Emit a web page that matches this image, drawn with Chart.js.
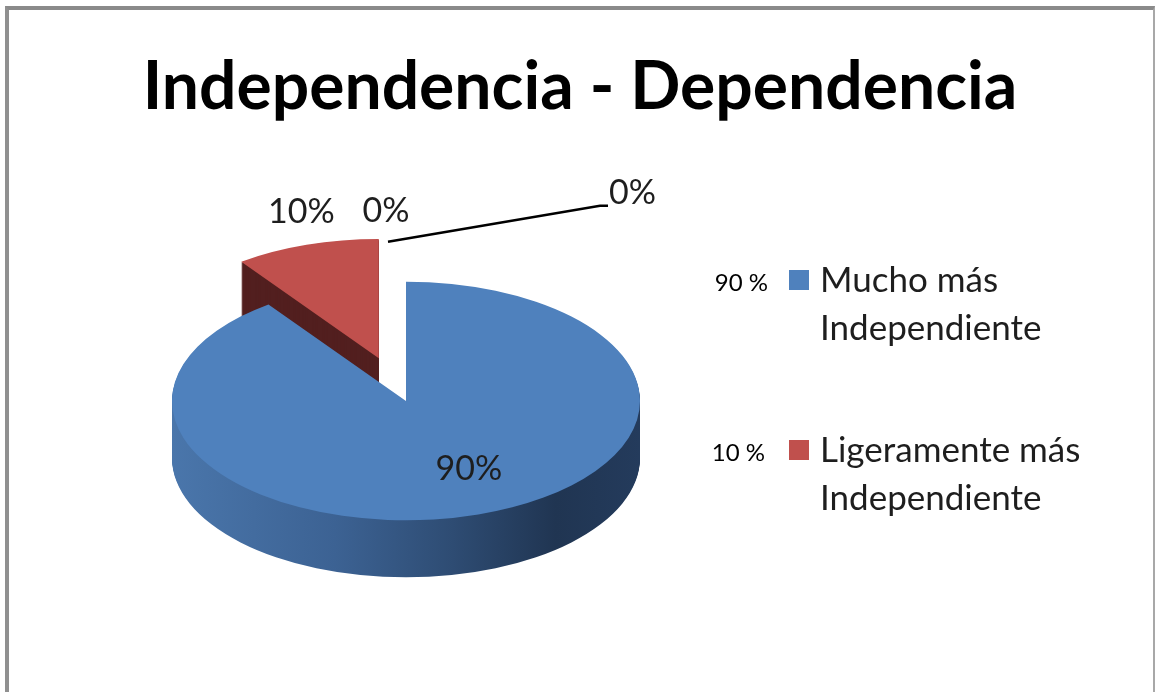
<!DOCTYPE html>
<html>
<head>
<meta charset="utf-8">
<script src="https://cdn.jsdelivr.net/npm/chart.js@4.4.0/dist/chart.umd.min.js"></script>
<style>
html, body { margin: 0; padding: 0; background: #fff; }
#wrap { position: relative; width: 1155px; height: 692px; overflow: hidden; }
#myChart { position: absolute; left: 0; top: 0; }
#frame { position: absolute; left: 5px; top: 6px; width: 1144px; height: 720px;
         border-top: 4px solid #8a8a8a; border-left: 4px solid #909090; border-right: 2px solid #a8a8a8; }
</style>
</head>
<body>
<div id="wrap">
  <canvas id="myChart" width="1155" height="692"></canvas>
  <div id="frame"></div>
</div>
<script>
// chart data
var chartTitle = 'Independencia - Dependencia';
var categories = ['Mucho más Independiente', 'Ligeramente más Independiente', 'Ligeramente más Dependiente', 'Mucho más Dependiente'];
var percentValues = [90, 10, 0, 0];

var TILT = 0.51;     // squash of the pie disc
var DEPTH = 57;      // thickness of the disc in px
var EXPLODE = [0, 88, 0, 0];
var FONT = 'Lato, "Open Sans", sans-serif';

function sliceShift(arc, i){
    var mid = (arc.startAngle + arc.endAngle) / 2;
    var e = EXPLODE[i] || 0;
    return { dx: Math.cos(mid) * e, dy: Math.sin(mid) * e };
}

function tilt(ctx, cx, cy){
    ctx.translate(cx, cy);
    ctx.scale(1, TILT);
    ctx.translate(-cx, -cy);
}

function rimPoint(arc, i, frac){
    var mid = (arc.startAngle + arc.endAngle) / 2;
    var s = sliceShift(arc, i);
    var r = arc.outerRadius * frac;
    return {
        x: arc.x + s.dx + Math.cos(mid) * r,
        y: arc.y + TILT * (s.dy + Math.sin(mid) * r)
    };
}

var pie3d = {
    id: 'pie3d',
    afterUpdate: function(chart){
        chart.getDatasetMeta(0).data.forEach(function(arc, i){
            if (arc._wrapped) return;
            var base = arc.draw;
            arc.draw = function(ctx, area){
                var s = sliceShift(this, i);
                ctx.save();
                ctx.translate(s.dx, s.dy);
                base.call(this, ctx, area);
                ctx.restore();
            };
            arc._wrapped = true;
        });
    },
    beforeDatasetsDraw: function(chart){
        var ctx = chart.ctx;
        var arcs = chart.getDatasetMeta(0).data;
        var cx = arcs[0].x, cy = arcs[0].y, R = arcs[0].outerRadius;

        var blueWall = ctx.createLinearGradient(cx - R, 0, cx + R, 0);
        blueWall.addColorStop(0, '#4a76ab');
        blueWall.addColorStop(0.35, '#3c6293');
        blueWall.addColorStop(0.6, '#2e4c73');
        blueWall.addColorStop(0.82, '#203552');
        blueWall.addColorStop(1, '#243b5c');
        var walls = [blueWall, '#521f1f', '#5f7530', '#4a3a61'];

        var order = [];
        arcs.forEach(function(a, i){ if (percentValues[i] > 0) order.push(i); });
        order.sort(function(a, b){ return sliceShift(arcs[a], a).dy - sliceShift(arcs[b], b).dy; });

        order.forEach(function(i){
            var a = arcs[i];
            var s = sliceShift(a, i);
            var x = a.x + s.dx, y = a.y + s.dy;
            ctx.fillStyle = walls[i];
            for (var d = DEPTH; d >= 1; d--) {
                ctx.save();
                ctx.translate(0, d);
                tilt(ctx, cx, cy);
                ctx.beginPath();
                ctx.moveTo(x, y);
                ctx.arc(x, y, a.outerRadius, a.startAngle, a.endAngle);
                ctx.closePath();
                ctx.fill();
                ctx.restore();
            }
        });

        ctx.save();
        tilt(ctx, cx, cy);
    },
    afterDatasetsDraw: function(chart){
        var ctx = chart.ctx;
        ctx.restore();

        var arcs = chart.getDatasetMeta(0).data;
        ctx.save();
        ctx.fillStyle = '#1e1e1e';
        ctx.font = '34px ' + FONT;
        ctx.textAlign = 'center';
        ctx.textBaseline = 'middle';
        var zeroCount = 0;
        arcs.forEach(function(a, i){
            var txt = percentValues[i] + '%';
            var p;
            if (percentValues[i] >= 50) {
                p = rimPoint(a, i, 0.62);
                ctx.fillText(txt, p.x + 18, p.y - 2);
            } else if (percentValues[i] > 0) {
                p = rimPoint(a, i, 1.25);
                ctx.fillText(txt, p.x + 13, p.y - 4);
            } else {
                p = rimPoint(a, i, 1.0);
                if (zeroCount === 0) {
                    ctx.fillText(txt, p.x - 20, p.y - 71);
                } else {
                    ctx.beginPath();
                    ctx.moveTo(p.x - 18, p.y - 40);
                    ctx.lineTo(p.x + 194, p.y - 76);
                    ctx.lineTo(p.x + 202, p.y - 76);
                    ctx.lineWidth = 2.5;
                    ctx.strokeStyle = '#000';
                    ctx.stroke();
                    ctx.textAlign = 'left';
                    ctx.fillText(txt, p.x + 203, p.y - 89);
                    ctx.textAlign = 'center';
                }
                zeroCount++;
            }
        });
        ctx.restore();
    },
    afterDraw: function(chart){
        var ctx = chart.ctx;
        ctx.save();
        // title
        ctx.fillStyle = '#000';
        ctx.font = 'bold 66px ' + FONT;
        ctx.textAlign = 'center';
        ctx.textBaseline = 'alphabetic';
        ctx.fillText(chartTitle, (chart.width + 5) / 2, 109);

        // legend with percentage prefixes
        var colors = chart.data.datasets[0].backgroundColor;
        var row = 0;
        percentValues.forEach(function(v, i){
            if (v <= 0) return;
            var base = 292 + row * 170;
            var cut = categories[i].lastIndexOf(' ');
            var lines = [categories[i].slice(0, cut), categories[i].slice(cut + 1)];
            ctx.fillStyle = '#000';
            ctx.font = '24px ' + FONT;
            ctx.textAlign = 'right';
            ctx.fillText(v + ' %', 768 - row * 3, base - 1);
            ctx.fillStyle = colors[i];
            ctx.fillRect(789, base - 22, 20, 20);
            ctx.fillStyle = '#1e1e1e';
            ctx.font = '35px ' + FONT;
            ctx.textAlign = 'left';
            ctx.fillText(lines[0], 820, base);
            ctx.fillText(lines[1], 820, base + 48);
            row++;
        });
        ctx.restore();
    }
};

var myChartElement = document.getElementById('myChart');
var myChart = new Chart(myChartElement, {
    type: 'pie',
    data: {
        labels: categories,
        datasets: [{
            data: percentValues,
            backgroundColor: ['#4f81bd', '#c0504d', '#9bbb59', '#8064a2'],
            borderWidth: 0,
            clip: false
        }]
    },
    options: {
        responsive: false,
        animation: false,
        events: [],
        radius: 234,
        layout: { padding: { left: 0, right: 343, top: 120, bottom: 10 } },
        plugins: {
            legend: { display: false },
            tooltip: { enabled: false },
            title: { display: false }
        }
    },
    plugins: [pie3d]
});
</script>
</body>
</html>
